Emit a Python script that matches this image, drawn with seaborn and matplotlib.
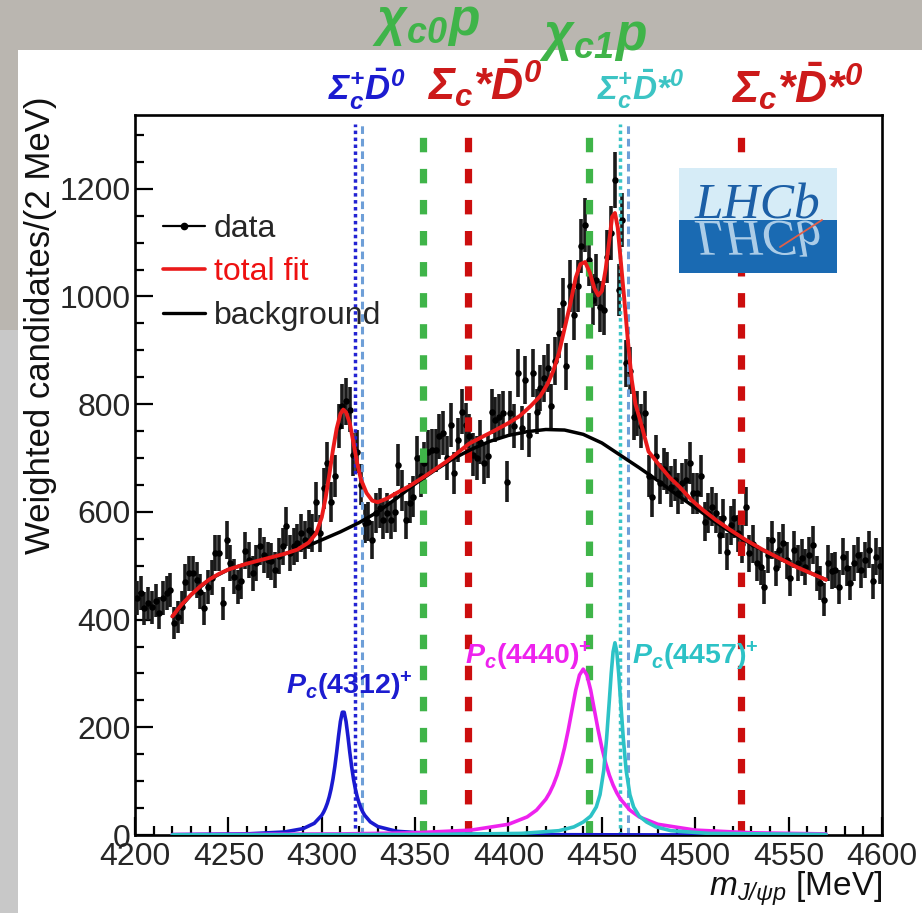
import numpy as np
import pandas as pd
import matplotlib
matplotlib.use("Agg")
import matplotlib.pyplot as plt
import seaborn as sns
from matplotlib.lines import Line2D
from matplotlib.patches import Rectangle, PathPatch
from matplotlib.textpath import TextPath
from matplotlib.font_manager import FontProperties
from matplotlib.transforms import Affine2D
from matplotlib.ticker import MultipleLocator

# ---------------- data ----------------
bin_centers = np.arange(4201, 4600, 2)  # 2 MeV bins, 4200-4600

counts = [
    440, 449, 421, 430, 423, 435, 412, 440, 449, 455,
    394, 405, 423, 470, 486, 486, 474, 452, 421, 461,
    478, 524, 524, 430, 548, 505, 480, 461, 471, 528,
    511, 486, 505, 536, 520, 511, 508, 492, 518, 536,
    573, 524, 536, 542, 561, 548, 567, 561, 619, 560,
    644, 690, 619, 666, 760, 796, 805, 790, 706, 712,
    650, 579, 582, 548, 598, 607, 585, 598, 585, 600,
    687, 640, 585, 616, 628, 700, 666, 690, 712, 714,
    714, 740, 746, 700, 762, 672, 734, 786, 762, 740,
    706, 700, 730, 690, 703, 786, 771, 777, 783, 656,
    783, 760, 858, 755, 845, 743, 858, 786, 830, 848,
    867, 796, 880, 932, 988, 870, 1019, 966, 1019, 1093,
    1133, 1068, 994, 1030, 981, 975, 1074, 1118, 1217, 1012,
    1142, 876, 862, 776, 783, 760, 783, 666, 628, 703,
    653, 680, 672, 647, 660, 635, 653, 659, 690, 635,
    635, 666, 582, 598, 610, 598, 557, 588, 526, 575,
    588, 560, 540, 610, 523, 540, 505, 498, 461, 520,
    548, 495, 529, 542, 510, 477, 530, 505, 515, 498,
    520, 539, 486, 468, 437, 505, 490, 492, 461, 517,
    495, 468, 505, 520, 492, 511, 530, 471, 517, 500,
]

errors = [
    31, 32, 31, 31, 31, 31, 30, 31, 32, 32,
    30, 30, 31, 33, 33, 33, 33, 32, 31, 32,
    33, 34, 34, 31, 35, 34, 33, 32, 33, 34,
    34, 33, 34, 35, 34, 34, 34, 33, 34, 35,
    36, 34, 35, 35, 36, 35, 36, 36, 37, 35,
    38, 39, 37, 39, 41, 42, 43, 42, 40, 40,
    38, 36, 36, 35, 37, 37, 36, 37, 36, 37,
    39, 38, 36, 37, 38, 40, 39, 39, 40, 40,
    40, 41, 41, 40, 41, 39, 41, 42, 41, 41,
    40, 40, 41, 39, 40, 42, 42, 42, 42, 38,
    42, 41, 44, 41, 44, 41, 44, 42, 43, 44,
    44, 42, 44, 46, 47, 44, 48, 47, 48, 50,
    50, 49, 47, 48, 47, 47, 49, 50, 52, 48,
    51, 44, 44, 42, 42, 41, 42, 39, 38, 40,
    38, 39, 39, 38, 39, 38, 38, 39, 39, 38,
    38, 39, 36, 37, 37, 37, 35, 36, 34, 36,
    36, 35, 35, 37, 34, 35, 34, 33, 32, 34,
    35, 33, 34, 35, 34, 33, 35, 34, 34, 33,
    34, 35, 33, 32, 31, 34, 33, 33, 32, 34,
    33, 32, 34, 34, 33, 34, 35, 33, 34, 34,
]

fit_mass = [4220, 4225, 4230, 4235, 4240, 4245, 4250, 4260, 4270, 4280, 4287, 4293,
            4297, 4300, 4302, 4304, 4306, 4308, 4310, 4311.5, 4313, 4315, 4317, 4319,
            4321, 4324, 4327, 4330, 4335, 4340, 4347, 4356, 4367, 4379, 4392, 4400,
            4406, 4412, 4417, 4421, 4424, 4427, 4430, 4433, 4436, 4438.5, 4441, 4443.5,
            4446, 4448, 4450, 4452, 4454, 4455.5, 4457, 4458.5, 4460, 4462, 4464, 4466,
            4468, 4470.5, 4475, 4480, 4486, 4492, 4498, 4504, 4511, 4519, 4527, 4536,
            4545, 4554, 4562, 4570]
fit_values = [406, 428, 446, 462, 475, 485, 493, 504, 513, 522, 530, 543,
              560, 590, 625, 668, 715, 755, 782, 790, 785, 765, 728, 690,
              660, 635, 621, 618, 625, 635, 648, 668, 694, 727, 750, 765,
              778, 797, 815, 838, 862, 895, 940, 985, 1035, 1060, 1064, 1045,
              1015, 1002, 1010, 1050, 1105, 1148, 1155, 1128, 1070, 995, 915, 845,
              800, 770, 712, 690, 665, 645, 622, 604, 585, 566, 548, 530,
              514, 498, 486, 474]

bkg_mass = [4220, 4230, 4240, 4250, 4260, 4270, 4280, 4290, 4300, 4310, 4320, 4330,
            4340, 4350, 4360, 4370, 4380, 4390, 4400, 4410, 4420, 4430, 4440, 4450,
            4460, 4470, 4480, 4490, 4500, 4510, 4520, 4530, 4540, 4550, 4560, 4570]
bkg_values = [406, 446, 475, 493, 504, 513, 522, 533, 548, 563, 580, 600,
              625, 652, 676, 698, 716, 731, 742, 749, 753, 752, 744, 728,
              705, 682, 658, 632, 608, 583, 560, 540, 522, 505, 489, 474]

pc4312_mass = [4220, 4260, 4280, 4290, 4296, 4300, 4301, 4302, 4303, 4304, 4305, 4306,
               4307, 4308, 4309, 4310, 4311, 4312, 4313, 4314, 4315, 4316, 4317, 4318,
               4319, 4320, 4321, 4322, 4323, 4326, 4330, 4340, 4360, 4400, 4480, 4570]
pc4312_values = [0.7, 2.1, 5.6, 11.8, 21.7, 36.6, 42.5, 49.9, 59.1, 70.8, 85.5, 104,
                 127, 154, 184, 211, 228, 228, 211, 184, 154, 127, 104, 85.5,
                 70.8, 59.1, 49.9, 42.5, 36.6, 24.4, 15.7, 6.9, 2.4, 0.7, 0.2, 0.1]

pc4440_mass = [4220, 4310, 4350, 4380, 4400, 4410, 4415,
               4420, 4422, 4424, 4426, 4428, 4430, 4432, 4434, 4436, 4438, 4440,
               4442, 4444, 4446, 4448, 4450, 4452, 4454, 4456, 4458, 4460,
               4465, 4470, 4480, 4500, 4530, 4570]
pc4440_values = [0.7, 2.0, 4.1, 9.1, 19.9, 33.6, 46.2,
                 66.5, 78.2, 92.8, 111, 134, 162, 195, 232, 269, 297, 308,
                 297, 269, 232, 195, 162, 134, 111, 92.8, 78.2, 66.5,
                 46.2, 33.6, 19.9, 9.1, 4.1, 2.0]

pc4457_mass = [4220, 4360, 4407, 4427, 4435, 4440, 4444, 4447, 4449, 4451, 4452.5, 4454,
               4455, 4456, 4457, 4458, 4459, 4460, 4461.5, 4463, 4465, 4467, 4470, 4474,
               4479, 4487, 4507, 4570]
pc4457_values = [0.3, 1, 3, 8, 15, 24, 35, 52, 75, 120, 178, 250,
                 300, 340, 357, 340, 300, 250, 178, 120, 75, 52, 35, 24,
                 15, 8, 3, 1]

# thresholds (vertical marker lines)
threshold_mass = [4317.7, 4321.6, 4354.4, 4378.5, 4443.3, 4459.7, 4464.2, 4524.3]
threshold_kind = ["blue_dot", "lblue_dash", "green", "red", "green", "cyan_dot",
                  "lblue_dash", "red"]

x_ticks_major = [4200, 4250, 4300, 4350, 4400, 4450, 4500, 4550, 4600]
y_ticks_major = [0, 200, 400, 600, 800, 1000, 1200]

# ---------------- style ----------------
sns.set_style("ticks")
plt.rcParams["font.family"] = ["Liberation Sans", "DejaVu Sans"]
plt.rcParams.update({
    "mathtext.fontset": "custom",
    "mathtext.rm": "Liberation Sans:bold",
    "mathtext.it": "Liberation Sans:italic:bold",
    "mathtext.bf": "Liberation Sans:bold",
    "mathtext.sf": "Liberation Sans:italic:bold",
    "mathtext.cal": "Liberation Sans:italic",
})

W, H = 922, 913


def fx(px):
    return px / W


def fy(py):
    return 1 - py / H


fig = plt.figure(figsize=(W / 100, H / 100), dpi=100, facecolor="#bab6b0")
fig.add_artist(Rectangle((0, 0), fx(18), fy(330), transform=fig.transFigure,
                         facecolor="#c8c8c8", edgecolor="none", zorder=-2))
fig.add_artist(Rectangle((fx(18), 0), 1 - fx(18), fy(50), transform=fig.transFigure,
                         facecolor="white", edgecolor="none", zorder=-1))

ax = fig.add_axes([fx(135), fy(835), (882 - 135) / W, (835 - 115) / H])
ax.set_facecolor("white")

# data with error bars
ax.errorbar(bin_centers, counts, yerr=errors, fmt="none", ecolor="#1a1a1a",
            elinewidth=2.6, capsize=0, zorder=3)
sns.scatterplot(x=bin_centers, y=counts, ax=ax, color="black", s=22,
                linewidth=0, zorder=4, legend=False)

# threshold lines
styles = {
    "blue_dot": dict(color="#2323d2", lw=2.5, dashes=(1, 1.0)),
    "lblue_dash": dict(color="#6e9fd8", lw=2.2, dashes=(2.5, 1.6)),
    "green": dict(color="#3fb449", lw=5.2, dashes=(2.0, 2.3)),
    "red": dict(color="#cc0e0e", lw=5.2, dashes=(2.0, 2.3)),
    "cyan_dot": dict(color="#39c4c6", lw=2.5, dashes=(1, 1.0)),
}
for m, k in zip(threshold_mass, threshold_kind):
    st = styles[k]
    ln = ax.axvline(m, ymin=0, ymax=0.987, color=st["color"], lw=st["lw"], zorder=4.5)
    ln.set_dashes(st["dashes"])

# fit curves
sns.lineplot(x=pc4312_mass, y=pc4312_values, ax=ax, color="#1a1ad0", lw=2.6,
             sort=False, estimator=None, zorder=6)
sns.lineplot(x=pc4440_mass, y=pc4440_values, ax=ax, color="#ee22ee", lw=2.6,
             sort=False, estimator=None, zorder=6)
sns.lineplot(x=pc4457_mass, y=pc4457_values, ax=ax, color="#2cc2c6", lw=2.6,
             sort=False, estimator=None, zorder=6)
sns.lineplot(x=bkg_mass, y=bkg_values, ax=ax, color="black", lw=2.5,
             sort=False, estimator=None, zorder=6)
sns.lineplot(x=fit_mass, y=fit_values, ax=ax, color="#ea1a1a", lw=2.8,
             sort=False, estimator=None, zorder=7)

ax.set_xlim(4200, 4600)
ax.set_ylim(0, 1337)
ax.set_xticks(x_ticks_major)
ax.set_yticks(y_ticks_major)
ax.xaxis.set_minor_locator(MultipleLocator(10))
ax.yaxis.set_minor_locator(MultipleLocator(50))
ax.tick_params(which="both", direction="in", top=False, right=False,
               color="black", width=1.6)
ax.tick_params(which="major", length=13, labelsize=23)
ax.tick_params(which="minor", length=6.5)
ax.tick_params(axis="x", which="major", pad=5)
ax.tick_params(axis="y", which="major", pad=3)
for sp in ax.spines.values():
    sp.set_color("black")
    sp.set_linewidth(1.9)
    sp.set_visible(True)
ax.set_xlabel("")
ax.set_ylabel("")

# axis titles
fig.text(fx(41), fy(325), "Weighted candidates/(2 MeV)", rotation=90,
         fontsize=25, ha="center", va="center", color="#111111")
fig.text(fx(882), fy(896), r"$\mathcal{m}_{\mathcal{J/\psi p}}$ [MeV]",
         fontsize=24, ha="right", va="baseline", color="#111111")

# legend
handles = [
    Line2D([], [], color="black", lw=1.6, marker="o", markersize=4.5),
    Line2D([], [], color="#ea1a1a", lw=2.6),
    Line2D([], [], color="black", lw=2.4),
]
leg = ax.legend(handles, ["data", "total fit", "background"], loc="upper left",
                bbox_to_anchor=(fx(163), fy(214)), bbox_transform=fig.transFigure,
                frameon=False, fontsize=23, handlelength=1.3, handletextpad=0.3,
                labelspacing=0.42, borderpad=0, borderaxespad=0, numpoints=1)
leg.get_texts()[1].set_color("#ee1111")

# Pc labels
ax_lbl = dict(fontsize=20.5, ha="center", va="baseline", zorder=12)
fig.text(fx(349), fy(694), r"$\mathsf{P}_{\mathsf{c}}\mathbf{(4312)}^{\mathbf{+}}$",
         color="#1c1cd0", **ax_lbl)
fig.text(fx(528), fy(664), r"$\mathsf{P}_{\mathsf{c}}\mathbf{(4440)}^{\mathbf{+}}$",
         color="#ee22ee", **ax_lbl)
fig.text(fx(695), fy(664), r"$\mathsf{P}_{\mathsf{c}}\mathbf{(4457)}^{\mathbf{+}}$",
         color="#2cc2c6", **ax_lbl)

# threshold labels (top)
top = dict(ha="center", va="baseline", zorder=12)
fig.text(fx(426), fy(35), r"$\mathsf{\chi}_{\mathsf{c0}}\mathsf{p}$", color="#3fb449",
         fontsize=37, **top)
fig.text(fx(593), fy(50), r"$\mathsf{\chi}_{\mathsf{c1}}\mathsf{p}$", color="#3fb449",
         fontsize=37, **top)
fig.text(fx(367), fy(100), r"$\mathsf{\Sigma}_{\mathsf{c}}^{\mathsf{+}}\bar{\mathsf{D}}^{\mathsf{0}}$",
         color="#1c1cd0", fontsize=25, **top)
fig.text(fx(485), fy(100), r"$\mathsf{\Sigma}_{\mathsf{c}}\mathsf{*}\bar{\mathsf{D}}^{\mathsf{0}}$",
         color="#cc1a1a", fontsize=32, **top)
fig.text(fx(641), fy(100), r"$\mathsf{\Sigma}_{\mathsf{c}}^{\mathsf{+}}\bar{\mathsf{D}}\mathsf{*}^{\mathsf{0}}$",
         color="#3cc4c4", fontsize=24, **top)
fig.text(fx(797), fy(103), r"$\mathsf{\Sigma}_{\mathsf{c}}\mathsf{*}\bar{\mathsf{D}}\mathsf{*}^{\mathsf{0}}$",
         color="#cc1a1a", fontsize=32, **top)

# LHCb logo
fig.add_artist(Rectangle((fx(679), fy(220)), (837 - 679) / W, 52 / H, transform=fig.transFigure,
                         facecolor="#d6ecf7", edgecolor="none", zorder=10))
fig.add_artist(Rectangle((fx(679), fy(273)), (837 - 679) / W, 53 / H, transform=fig.transFigure,
                         facecolor="#1a6ab2", edgecolor="none", zorder=10))
logo_size_pt = 37
fig.text(fx(757), fy(218), "LHCb", family="Liberation Serif", style="italic",
         fontsize=logo_size_pt, color="#1c5fa6", ha="center", va="baseline", zorder=11)
fp = FontProperties(family="Liberation Serif", style="italic")
tp = TextPath((0, 0), "LHCb", size=logo_size_pt * 100 / 72, prop=fp)
ext = tp.get_extents()
cx = (ext.x0 + ext.x1) / 2
tr = Affine2D().translate(-cx, 0).scale(1 / W, -1 / H).translate(fx(757), fy(221)) + fig.transFigure
fig.add_artist(PathPatch(tp, transform=tr, facecolor="#bcd8ee", edgecolor="none",
                         alpha=0.9, zorder=11))
fig.add_artist(Line2D([fx(780), fx(822)], [fy(247), fy(220)], transform=fig.transFigure,
                      color="#e0604a", lw=1.3, zorder=12))

fig.savefig("out.png", dpi=100, facecolor=fig.get_facecolor())
